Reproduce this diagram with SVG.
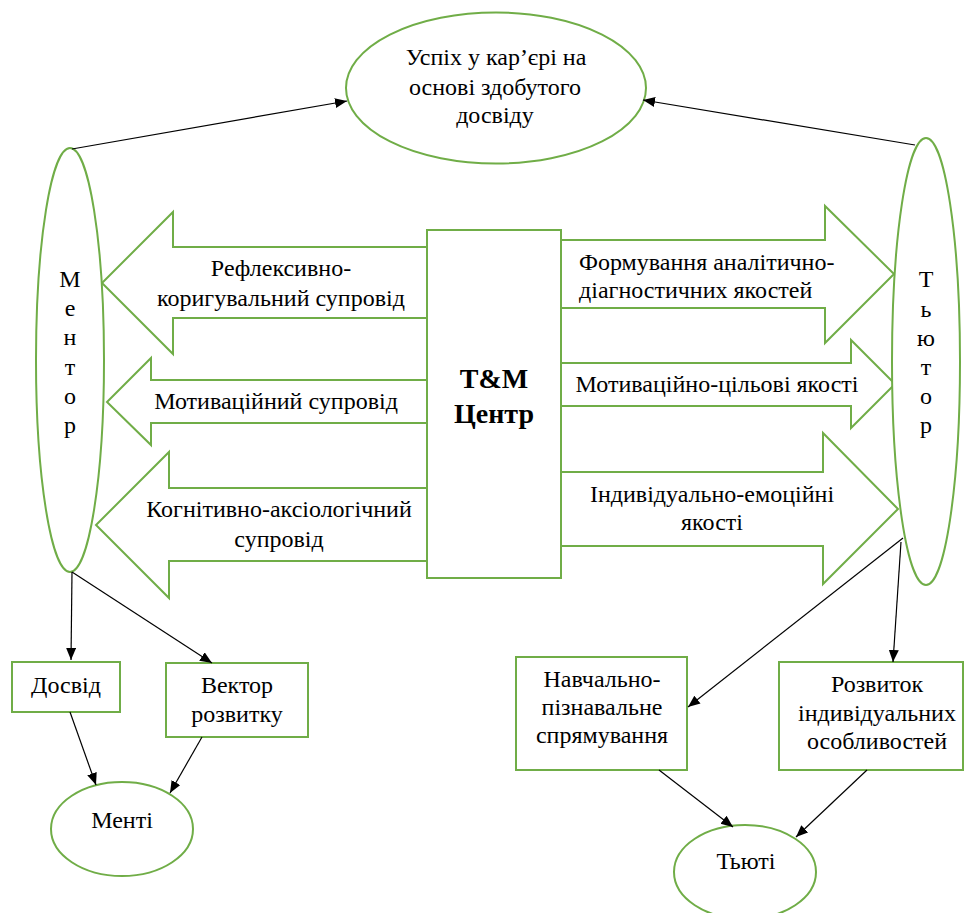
<svg xmlns="http://www.w3.org/2000/svg" width="964" height="913" viewBox="0 0 964 913">
<style>
.g{fill:#fff;stroke:#70AD47;stroke-width:2}
.c{stroke:#000;stroke-width:1.2;fill:none;marker-end:url(#ah)}
text{font-family:'Liberation Serif',serif;font-size:24px;fill:#000;text-anchor:middle}
.s{text-anchor:start}
.b{font-weight:bold;font-size:28px}
</style>
<defs>
<marker id="ah" markerUnits="userSpaceOnUse" markerWidth="13" markerHeight="11" refX="12" refY="5" orient="auto">
<path d="M0,0 L12,5 L0,10 z" fill="#000"/>
</marker>
</defs>
<rect width="964" height="913" fill="#fff"/>

<g id="arrow-reflex">
<polygon class="g" points="427,247 173,247 173,212 102,283 173,354 173,318 427,318"/>
<text font-family="Liberation Serif" x="281" y="276">Рефлексивно-</text>
<text font-family="Liberation Serif" x="281" y="306">коригувальний супровід</text>
</g>
<g id="arrow-motiv">
<polygon class="g" points="427,380 151,380 151,358 107,402 151,445 151,423 427,423"/>
<text font-family="Liberation Serif" x="276" y="409">Мотиваційний супровід</text>
</g>
<g id="arrow-cogn">
<polygon class="g" points="427,488 169,488 169,452 96,525 169,598 169,561 427,561"/>
<text font-family="Liberation Serif" x="279" y="517">Когнітивно-аксіологічний</text>
<text font-family="Liberation Serif" x="279" y="547">супровід</text>
</g>
<g id="arrow-form">
<polygon class="g" points="561,240 825,240 825,206 894,274 825,343 825,308 561,308"/>
<text font-family="Liberation Serif" class="s" x="579" y="270">Формування аналітично-</text>
<text font-family="Liberation Serif" class="s" x="579" y="298">діагностичних якостей</text>
</g>
<g id="arrow-motiv-r">
<polygon class="g" points="561,363 851,363 851,340 895,384 851,428 851,406 561,406"/>
<text font-family="Liberation Serif" x="717" y="392">Мотиваційно-цільові якості</text>
</g>
<g id="arrow-indiv">
<polygon class="g" points="561,472 823,472 823,433 898,509 823,584 823,546 561,546"/>
<text font-family="Liberation Serif" x="712" y="502">Індивідуально-емоційні</text>
<text font-family="Liberation Serif" x="712" y="530">якості</text>
</g>

<g id="centre">
<rect class="g" x="427" y="230" width="134" height="348"/>
<text font-family="Liberation Serif" class="b" x="494" y="388">T&amp;M</text>
<text font-family="Liberation Serif" class="b" x="494" y="423">Центр</text>
</g>

<g id="success">
<ellipse class="g" cx="496" cy="88" rx="150" ry="75.5"/>
<text font-family="Liberation Serif" x="496" y="65">Успіх у кар’єрі на</text>
<text font-family="Liberation Serif" x="495" y="95">основі здобутого</text>
<text font-family="Liberation Serif" x="495" y="123">досвіду</text>
</g>

<g id="mentor">
<ellipse class="g" cx="70" cy="360" rx="34" ry="212"/>
<text font-family="Liberation Serif" x="70" y="287">М</text>
<text font-family="Liberation Serif" x="70" y="316">е</text>
<text font-family="Liberation Serif" x="70" y="345">н</text>
<text font-family="Liberation Serif" x="70" y="375">т</text>
<text font-family="Liberation Serif" x="70" y="404">о</text>
<text font-family="Liberation Serif" x="70" y="433">р</text>
</g>

<g id="tutor">
<ellipse class="g" cx="926" cy="361.5" rx="34" ry="223.5"/>
<text font-family="Liberation Serif" x="926" y="287">Т</text>
<text font-family="Liberation Serif" x="926" y="317">ь</text>
<text font-family="Liberation Serif" x="926" y="346">ю</text>
<text font-family="Liberation Serif" x="926" y="375">т</text>
<text font-family="Liberation Serif" x="926" y="404">о</text>
<text font-family="Liberation Serif" x="926" y="433">р</text>
</g>

<g id="experience">
<rect class="g" x="12" y="662" width="108" height="50"/>
<text font-family="Liberation Serif" x="66" y="693">Досвід</text>
</g>
<g id="vector">
<rect class="g" x="166" y="663" width="142" height="74"/>
<text font-family="Liberation Serif" x="237" y="693">Вектор</text>
<text font-family="Liberation Serif" x="237" y="722">розвитку</text>
</g>
<g id="mentee">
<ellipse class="g" cx="122" cy="829" rx="71" ry="47"/>
<text font-family="Liberation Serif" x="122" y="828">Менті</text>
</g>
<g id="learning">
<rect class="g" x="516" y="657" width="171" height="113"/>
<text font-family="Liberation Serif" x="602" y="687">Навчально-</text>
<text font-family="Liberation Serif" x="602" y="715">пізнавальне</text>
<text font-family="Liberation Serif" x="602" y="743">спрямування</text>
</g>
<g id="development">
<rect class="g" x="779" y="662" width="184" height="108"/>
<text font-family="Liberation Serif" x="877" y="692">Розвиток</text>
<text font-family="Liberation Serif" x="877" y="721">індивідуальних</text>
<text font-family="Liberation Serif" x="877" y="749">особливостей</text>
</g>
<g id="tutee">
<ellipse class="g" cx="745" cy="872" rx="71" ry="47"/>
<text font-family="Liberation Serif" x="746" y="869">Тьюті</text>
</g>

<g id="connectors">
<line class="c" x1="72" y1="149" x2="347" y2="101"/>
<line class="c" x1="915" y1="145" x2="643" y2="100"/>
<line class="c" x1="72" y1="572" x2="71" y2="660"/>
<line class="c" x1="72" y1="572" x2="212" y2="663"/>
<line class="c" x1="70" y1="712" x2="96" y2="785"/>
<line class="c" x1="202" y1="737" x2="170" y2="793"/>
<line class="c" x1="903" y1="538" x2="688" y2="707"/>
<line class="c" x1="901" y1="542" x2="893" y2="662"/>
<line class="c" x1="659" y1="770" x2="733" y2="827"/>
<line class="c" x1="867" y1="770" x2="796" y2="837"/>
</g>
</svg>
